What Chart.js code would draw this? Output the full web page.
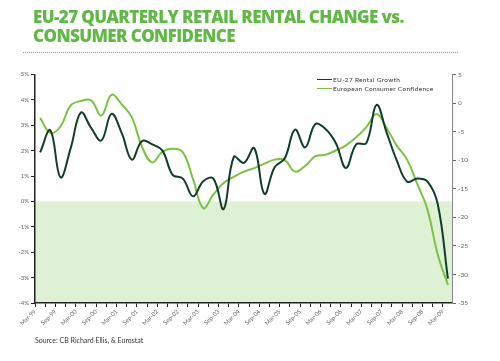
<!DOCTYPE html>
<html>
<head>
<meta charset="utf-8">
<script src="https://cdn.jsdelivr.net/npm/chart.js@4"></script>
<style>
  body { margin: 0; width: 500px; height: 361px; position: relative; background: #fff; overflow: hidden; font-family: Lato, sans-serif; }
  canvas { position: absolute; left: 0; top: 0; }
  #title { position: absolute; left: 33px; top: 7px; margin: 0; color: #62b846; font: 800 17px/19px "Open Sans", sans-serif; letter-spacing: -0.6px; }
  #rule { position: absolute; left: 23px; top: 52px; width: 435px; border-top: 1px dotted #999; }
  #legend { position: absolute; left: 317px; top: 75px; font-size: 6.5px; color: #333; letter-spacing: 0.3px; }
  .item { display: flex; align-items: center; height: 9px; }
  .sw { width: 15px; height: 1.5px; margin-right: 1px; }
  #source { position: absolute; left: 35px; top: 336px; font-size: 7px; color: #333; }
</style>
</head>
<body>
<canvas id="chart" width="500" height="361"></canvas>
<div id="title">EU-27 QUARTERLY RETAIL RENTAL CHANGE vs.<br>CONSUMER CONFIDENCE</div>
<div id="rule"></div>
<div id="legend">
  <div class="item"><span class="sw" style="background:#103d2b"></span>EU-27 Rental Growth</div>
  <div class="item"><span class="sw" style="background:#7cc143"></span>European Consumer Confidence</div>
</div>
<div id="source">Source: CB Richard Ellis, &amp; Eurostat</div>
<script>
// x axis labels, one every two quarters (Mar-99 .. Mar-09)
const tickLabels = ['Mar-99', 'Sep-99', 'Mar-00', 'Sep-00', 'Mar-01', 'Sep-01', 'Mar-02', 'Sep-02', 'Mar-03', 'Sep-03',
  'Mar-04', 'Sep-04', 'Mar-05', 'Sep-05', 'Mar-06', 'Sep-06', 'Mar-07', 'Sep-07', 'Mar-08', 'Sep-08', 'Mar-09'];

// quarterly readings, % (left axis)
const rentalGrowth = [1.93, 2.8, 0.95, 2.1, 3.5, 2.9, 2.4, 3.45, 2.7, 1.65,
  2.38, 2.25, 2.0, 1.05, 0.9, 0.2, 0.8, 0.9, -0.3, 1.75,
  1.52, 2.1, 0.3, 1.35, 1.7, 2.83, 2.13, 3.05, 2.85, 2.3,
  1.32, 2.25, 2.3, 3.8, 2.7, 1.6, 0.78, 0.9, 0.78, -0.1,
  -3.04];

// quarterly readings, balance (right axis)
const consumerConfidence = [-2.6, -5.2, -4.1, -0.4, 0.35, 0.5, -2.2, 1.45, -0.2, -2.5,
  -7.7, -10.4, -8.5, -8.0, -8.6, -13.3, -18.4, -16.0, -14.0, -12.9,
  -12.0, -11.4, -10.6, -9.9, -10.0, -12.0, -11.0, -9.3, -9.05, -8.3,
  -7.4, -6.0, -4.2, -1.9, -4.4, -7.5, -9.9, -14.2, -18.7, -26.5,
  -31.8];

Chart.defaults.font.family = 'Lato, sans-serif';

// light green band under the 0% line
const shadeBelowZero = {
  id: 'shadeBelowZero',
  beforeDraw(chart) {
    const { ctx, chartArea, scales } = chart;
    const y0 = scales.y.getPixelForValue(0);
    ctx.save();
    ctx.fillStyle = '#dff1d4';
    ctx.fillRect(chartArea.left, y0, chartArea.right - chartArea.left, chartArea.bottom - y0);
    ctx.restore();
  }
};

new Chart(document.getElementById('chart'), {
  type: 'line',
  data: {
    datasets: [{
      label: 'EU-27 Rental Growth',
      data: rentalGrowth.map((v, i) => ({ x: i + 0.5, y: v })),
      borderColor: '#103d2b',
      borderWidth: 2,
      pointRadius: 0,
      tension: 0.4,
      yAxisID: 'y'
    }, {
      label: 'European Consumer Confidence',
      data: consumerConfidence.map((v, i) => ({ x: i + 0.5, y: v })),
      borderColor: '#7cc143',
      borderWidth: 2,
      pointRadius: 0,
      tension: 0.4,
      yAxisID: 'y2'
    }]
  },
  options: {
    responsive: false,
    animation: false,
    layout: { padding: { top: 74.5, left: 0, right: 0, bottom: 0 } },
    plugins: { legend: { display: false }, tooltip: { enabled: false } },
    scales: {
      x: {
        type: 'linear',
        min: 0,
        max: 40.9,
        afterFit: s => { s.height = 58; },
        border: { color: '#222', width: 1.5 },
        grid: { drawOnChartArea: false, color: '#222', tickLength: 4 },
        ticks: {
          stepSize: 1,
          autoSkip: false,
          includeBounds: false,
          minRotation: 45,
          maxRotation: 45,
          padding: 1,
          color: '#666',
          font: { size: 6 },
          callback: v => (v % 2 === 0 ? tickLabels[v / 2] : '')
        }
      },
      y: {
        position: 'left',
        min: -4,
        max: 5,
        afterFit: s => { s.width = 35; },
        border: { color: '#222', width: 1.5 },
        grid: { drawOnChartArea: false, color: '#222', tickLength: 4 },
        ticks: { stepSize: 1, padding: 2, color: '#666', font: { size: 6 }, callback: v => v + '%' }
      },
      y2: {
        position: 'right',
        min: -35,
        max: 5,
        afterFit: s => { s.width = 48; },
        border: { color: '#888', width: 1 },
        grid: { drawOnChartArea: false, color: '#666', tickLength: 4 },
        ticks: { stepSize: 5, padding: 2, color: '#666', font: { size: 6.5 } }
      }
    }
  },
  plugins: [shadeBelowZero]
});
</script>
</body>
</html>
